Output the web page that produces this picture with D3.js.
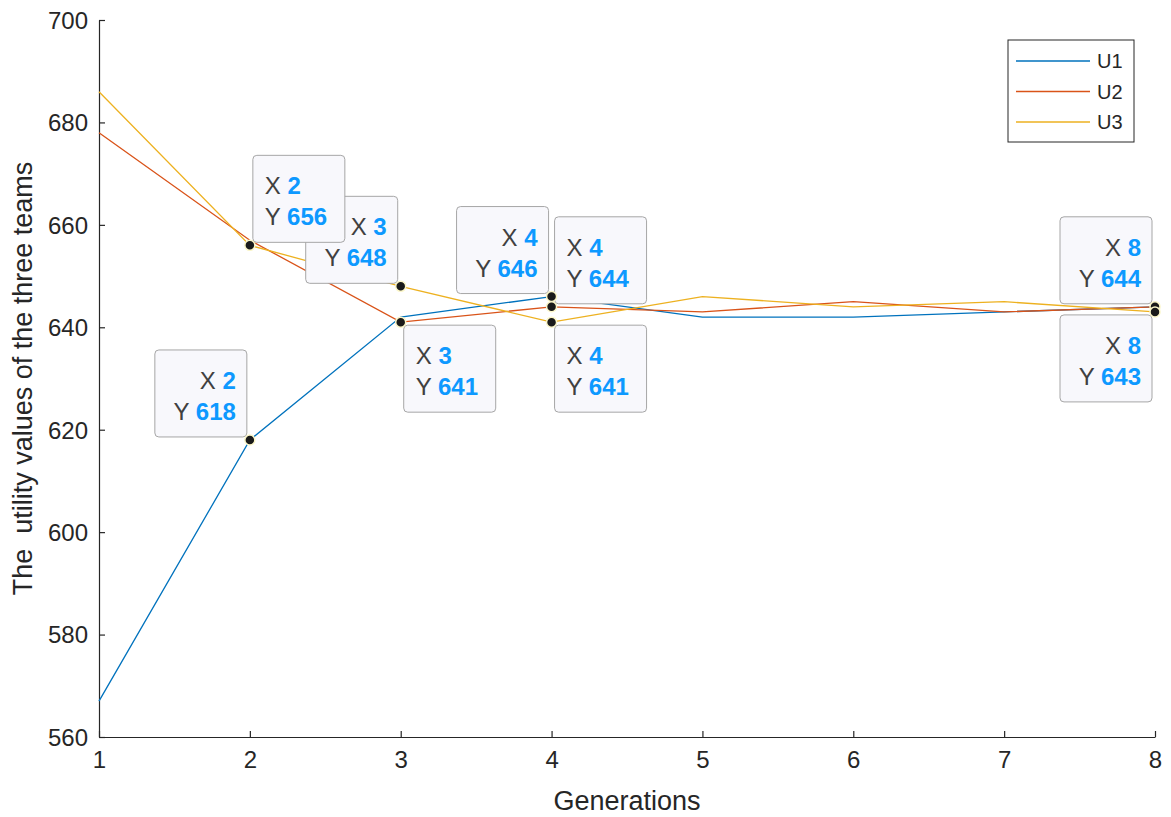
<!DOCTYPE html>
<html lang="en">
<head>
<meta charset="UTF-8">
<title>Utility values</title>
<script src="https://cdn.jsdelivr.net/npm/d3@7"></script>
<style>
body { margin: 0; background: #fff; }
text { font-family: "Liberation Sans", Arial, sans-serif; }
</style>
</head>
<body>
<script>

// data
var generations = [1, 2, 3, 4, 5, 6, 7, 8];
var u1 = [567, 618, 642, 646, 642, 642, 643, 644];
var u2 = [678, 657, 641, 644, 643, 645, 643, 644];
var u3 = [686, 656, 648, 641, 646, 644, 645, 643];
var seriesNames = ["U1", "U2", "U3"];
var xTicks = [1, 2, 3, 4, 5, 6, 7, 8];
var yTicks = [560, 580, 600, 620, 640, 660, 680, 700];

// data tips: series, generation, side of the point the box sits on
var tips = [
    {s: 2, g: 3, side: "ul"},
    {s: 0, g: 2, side: "ul"},
    {s: 2, g: 2, side: "ur"},
    {s: 1, g: 3, side: "dr"},
    {s: 0, g: 4, side: "ul"},
    {s: 1, g: 4, side: "ur"},
    {s: 2, g: 4, side: "dr"},
    {s: 1, g: 8, side: "ul"},
    {s: 2, g: 8, side: "dl"}
];

var colors = ["#0072BD", "#D95319", "#EDB120"];
var series = [u1, u2, u3];

var W = 1171, H = 817;
var mLeft = 99, mRight = 1155, mTop = 20, mBottom = 737;

var svg = d3.select("body").append("svg")
    .attr("width", W)
    .attr("height", H);

var x = d3.scaleLinear().domain([1, 8]).range([mLeft, mRight]);
var y = d3.scaleLinear().domain([560, 700]).range([mBottom, mTop]);

var axisColor = "#262626";

var xAxis = svg.append("g")
    .attr("transform", "translate(0," + mBottom + ")")
    .call(d3.axisBottom(x).tickValues(xTicks).tickFormat(d3.format("d"))
        .tickSizeInner(-6).tickSizeOuter(0).tickPadding(12));

var yAxis = svg.append("g")
    .attr("transform", "translate(" + mLeft + ",0)")
    .call(d3.axisLeft(y).tickValues(yTicks).tickFormat(d3.format("d"))
        .tickSizeInner(-6).tickSizeOuter(0).tickPadding(11));

[xAxis, yAxis].forEach(function(a) {
    a.selectAll("path, line").attr("stroke", axisColor).attr("stroke-width", 1.2);
    a.selectAll("text").attr("fill", axisColor).style("font-size", "24px")
        .style("font-family", "'Liberation Sans', Arial, sans-serif");
});
xAxis.selectAll("text").attr("dy", "0.8em");
yAxis.selectAll("text").attr("dy", "0.35em");

svg.append("text")
    .attr("x", (mLeft + mRight) / 2)
    .attr("y", 810)
    .attr("text-anchor", "middle")
    .attr("fill", axisColor)
    .style("font-size", "27px")
    .text("Generations");

svg.append("text")
    .attr("transform", "translate(32," + ((mTop + mBottom) / 2) + ") rotate(-90)")
    .attr("text-anchor", "middle")
    .attr("fill", axisColor)
    .style("font-size", "27px")
    .style("white-space", "pre")
    .attr("xml:space", "preserve")
    .text("The  utility values of the three teams");

var line = d3.line()
    .x(function(d, i) { return x(generations[i]); })
    .y(function(d) { return y(d); });

series.forEach(function(s, k) {
    svg.append("path")
        .attr("d", line(s))
        .attr("fill", "none")
        .attr("stroke", colors[k])
        .attr("stroke-width", 1.3);
});

// legend
var lg = svg.append("g").attr("transform", "translate(1008,40)");
lg.append("rect")
    .attr("width", 126).attr("height", 102)
    .attr("fill", "#fff").attr("stroke", axisColor).attr("stroke-width", 1);
seriesNames.forEach(function(n, k) {
    var yy = 21 + k * 30.5;
    lg.append("line")
        .attr("x1", 8).attr("x2", 82).attr("y1", yy).attr("y2", yy)
        .attr("stroke", colors[k]).attr("stroke-width", 1.5);
    lg.append("text")
        .attr("x", 89).attr("y", yy).attr("dy", "0.36em")
        .attr("fill", axisColor).style("font-size", "20px")
        .text(n);
});

// data tips
var boxW = 92, boxH = 87, gap = 3;
var tipLayer = svg.append("g");
var dotLayer = svg.append("g");

tips.forEach(function(t) {
    var idx = generations.indexOf(t.g);
    var val = series[t.s][idx];
    var px = x(t.g), py = y(val);
    var rightSide = t.side[1] == "r";
    var below = t.side[0] == "d";
    var bx = rightSide ? px + gap : px - gap - boxW;
    var by = below ? py + gap : py - gap - boxH;

    var g = tipLayer.append("g").attr("transform", "translate(" + bx + "," + by + ")");
    g.append("rect")
        .attr("width", boxW).attr("height", boxH)
        .attr("rx", 4).attr("ry", 4)
        .attr("fill", "#f8f8fc")
        .attr("stroke", "#a6a6a6").attr("stroke-width", 1);

    var tx = rightSide ? 12 : boxW - 11;
    var anchor = rightSide ? "start" : "end";
    [["X", t.g], ["Y", val]].forEach(function(r, j) {
        var txt = g.append("text")
            .attr("x", tx).attr("y", 39 + j * 31)
            .attr("text-anchor", anchor)
            .style("font-size", "24px");
        txt.append("tspan").attr("fill", "#404040").text(r[0] + " ");
        txt.append("tspan").attr("fill", "#0d99ff").attr("font-weight", "bold").text(r[1]);
    });

    dotLayer.append("circle")
        .attr("cx", px).attr("cy", py).attr("r", 5)
        .attr("fill", "#1a1a1a")
        .attr("stroke", "#fbf6c8").attr("stroke-width", 1.5);
});

</script>
</body>
</html>
